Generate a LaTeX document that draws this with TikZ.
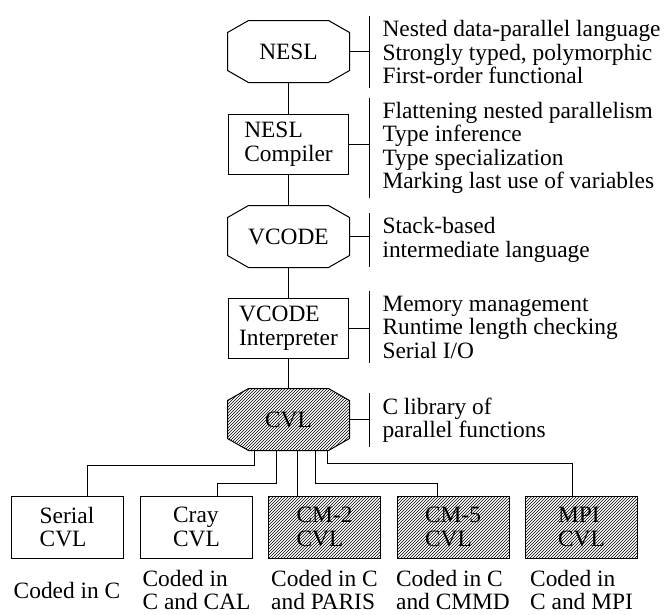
\documentclass[tikz,border=0pt]{standalone}
\usepackage{fontspec}
\setmainfont{Liberation Serif}
\usetikzlibrary{patterns, positioning, backgrounds}

% octagon round a named node: 21pt by 12pt chamfers
\newcommand\octdraw[2][]{%
  \draw [line width=1pt, #1] ([xshift=21pt]#2.north west) -- ([xshift=-21pt]#2.north east)
    -- ([yshift=-12pt]#2.north east) -- ([yshift=12pt]#2.south east)
    -- ([xshift=-21pt]#2.south east) -- ([xshift=21pt]#2.south west)
    -- ([yshift=12pt]#2.south west) -- ([yshift=-12pt]#2.north west) -- cycle;}

\begin{document}
\begin{tikzpicture}[x=1pt, y=-1pt, line width=1pt,
  font=\fontsize{23.4}{23.5}\selectfont,
  lang/.style={rectangle, inner sep=0pt, minimum width=121pt,
    minimum height=61pt, align=center},
  proc/.style={draw, rectangle, inner sep=0pt, minimum width=120pt,
    minimum height=60pt, align=left},
  leaf/.style={proc, minimum width=112pt, minimum height=62pt},
  hatch/.style={pattern=north east lines},
  note/.style={anchor=west, inner xsep=13pt, inner ysep=4pt, align=left},
  coded/.style={align=left, inner sep=0pt}]
\useasboundingbox (0,0) rectangle (664,614);
% the chain of stages
\node [lang] (nesl) at (288.5,51.5) {NESL};
\node [proc] (neslc) at (288.5,144) {NESL\\Compiler};
\node [lang] (vcode) at (288.5,236.5) {VCODE};
\node [proc] (vcodei) at (288.5,328) {VCODE\\Interpreter};
\node [lang] (cvl) at (288.5,419.5) {CVL};
\begin{scope}[on background layer]
\octdraw{nesl}
\octdraw{vcode}
\octdraw[hatch]{cvl}
\end{scope}
\draw (nesl) -- (neslc);
\draw (neslc) -- (vcode);
\draw (vcode) -- (vcodei);
\draw (vcodei) -- (cvl);
% notes on the right
\node [note] (neslnote) at (369,52) {Nested data-parallel language\\Strongly typed, polymorphic\\First-order functional};
\node [note] (neslcnote) at (369,148) {Flattening nested parallelism\\Type inference\\Type specialization\\Marking last use of variables};
\node [note] (vcodenote) at (369,240) {Stack-based\\intermediate language};
\node [note] (vcodeinote) at (369,327) {Memory management\\Runtime length checking\\Serial I/O};
\node [note] (cvlnote) at (369,420) {C library of\\parallel functions};
\foreach \s in {nesl, neslc, vcode, vcodei, cvl} {
  \draw (\s note.north west) -- (\s note.south west);
  \draw (\s.east) -- (\s.east -| \s note.west);
}
% the CVL implementations
\node [leaf] (serial) at (67,527) {Serial\\CVL};
\node [leaf] (cray) at (196.5,527) {Cray\\CVL};
\node [leaf, hatch] (cmtwo) at (324.5,527) {CM-2\\CVL};
\node [leaf, hatch] (cmfive) at (453,527) {CM-5\\CVL};
\node [leaf, hatch] (mpi) at (581.5,527) {MPI\\CVL};
\draw ([xshift=-34.5pt]cvl.south) -- ++(0,15) -| ([xshift=20pt]serial.north);
\draw ([xshift=-12.5pt]cvl.south) -- ++(0,33) -| ([xshift=20.5pt]cray.north);
\draw ([xshift=8.5pt]cvl.south) -- ([xshift=-27.5pt]cmtwo.north);
\draw ([xshift=26.5pt]cvl.south) -- ++(0,33) -| ([xshift=-16pt]cmfive.north);
\draw ([xshift=38.5pt]cvl.south) -- ++(0,13) -| ([xshift=-9.5pt]mpi.north);
\node [coded] (serialcode) at (67,590) {Coded in C};
\node [coded] (craycode) at (196.5,590) {Coded in\\C and CAL};
\node [coded] (cmtwocode) at (324.5,590) {Coded in C\\and PARIS};
\node [coded] (cmfivecode) at (453,590) {Coded in C\\and CMMD};
\node [coded] (mpicode) at (581.5,590) {Coded in\\C and MPI};
\end{tikzpicture}
\end{document}
